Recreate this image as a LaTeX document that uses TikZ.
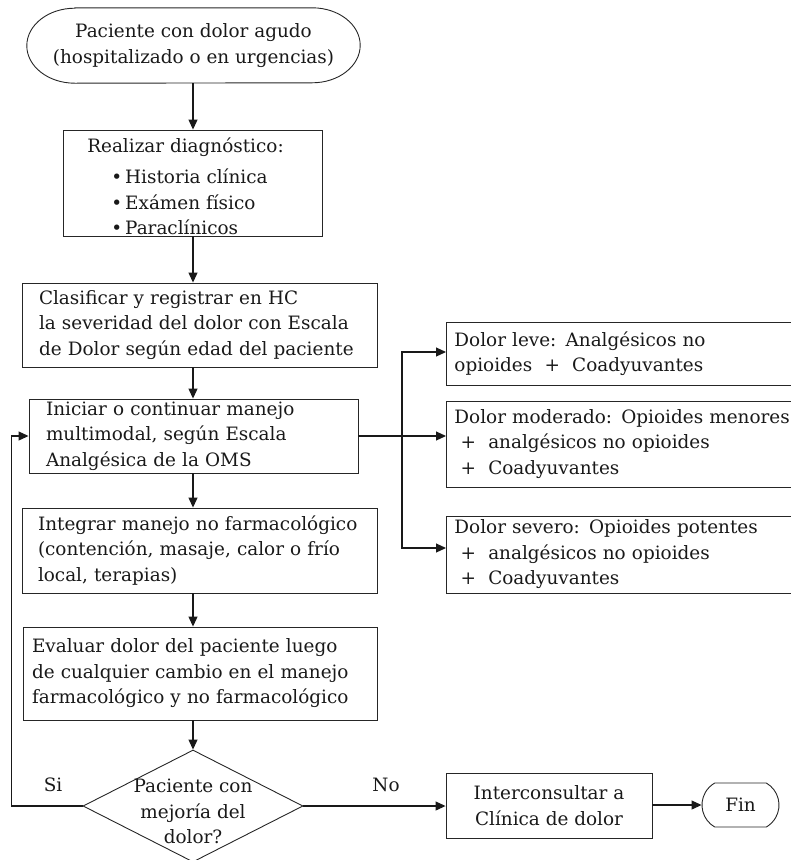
\documentclass[tikz,border=0pt]{standalone}
\usepackage{fontspec}
\setmainfont{DejaVu Serif}
\usetikzlibrary{shapes.geometric,shapes.misc,arrows.meta}
\tikzset{
  x=1pt,y=-1pt,
  txt/.style={font=\fontsize{18.4}{25.5}\selectfont, text=black!90},
  lbox/.style={txt, draw=black!85, line width=0.9pt, rectangle, align=left, inner ysep=1pt},
  rbox/.style={lbox, anchor=west, text width=360pt, inner xsep=8pt},
  cbox/.style={txt, draw=black!85, line width=0.9pt, rectangle, align=center, inner sep=1pt},
  term/.style={txt, draw=black!85, line width=0.9pt, rounded rectangle, align=center, inner sep=1pt},
  decision/.style={txt, draw=black!85, line width=0.9pt, diamond, align=center, inner sep=0pt,
    minimum width=220pt, minimum height=112pt},
  arr/.style={draw=black!90, line width=1.1pt, -{Triangle[length=10pt,width=9pt]}},
  ln/.style={draw=black!90, line width=1.1pt},
  outl/.style={draw=black!85, line width=0.9pt},
}
\begin{document}
\begin{tikzpicture}
\useasboundingbox (0,0) rectangle (791,860);

\node[txt, align=center, inner sep=0pt, minimum width=333pt, minimum height=75pt] (start) at (193.5,45.5)
  {Paciente con dolor agudo\\(hospitalizado o en urgencias)};
\draw[outl] ([xshift=48pt]start.north west) -- ([xshift=-48pt]start.north east)
  arc[start angle=90, end angle=-90, x radius=48pt, y radius=37.5pt]
  -- ([xshift=48pt]start.south west)
  arc[start angle=270, end angle=90, x radius=48pt, y radius=37.5pt] -- cycle;

\node[lbox, inner sep=0pt, minimum width=259pt, minimum height=106pt] (real) at (192.5,183)
  {\raisebox{-9.5pt}[0pt][0pt]{\makebox[0pt]{\hspace*{-14pt}\begin{tabular}{@{}l@{}}Realizar diagnóstico:\\[6pt]
   \hspace*{24pt}•\,Historia clínica\\
   \hspace*{24pt}•\,Exámen físico\\
   \hspace*{24pt}•\,Paraclínicos\end{tabular}}}};

\node[lbox, text width=321pt, inner xsep=17pt, minimum height=84pt] (clas) at (199.5,325)
  {Clasificar y registrar en HC\\la severidad del dolor con Escala\\de Dolor según edad del paciente};

\node[lbox, text width=295pt, inner xsep=17pt, minimum height=74pt] (ini) at (193.5,436)
  {Iniciar o continuar manejo\\multimodal, según Escala\\Analgésica de la OMS};

\node[lbox, text width=323pt, inner xsep=16pt, minimum height=85pt] (integ) at (199.5,550.5)
  {Integrar manejo no farmacológico\\(contención, masaje, calor o frío\\local, terapias)};

\node[lbox, text width=336pt, inner xsep=9pt, minimum height=93pt] (eval) at (200,673.5)
  {Evaluar dolor del paciente luego\\de cualquier cambio en el manejo\\farmacológico y no farmacológico};

\node[decision] (d) at (193,806)
  {\raisebox{-11.5pt}[0pt][0pt]{\makebox[0pt]{\begin{tabular}{@{}c@{}}Paciente con\\mejoría del\\dolor?\end{tabular}}}};

\node[cbox, minimum width=206pt, minimum height=65pt] (inter) at (549,805.5)
  {Interconsultar a\\Clínica de dolor};

\node[term, rounded rectangle arc length=120, minimum width=79pt, minimum height=44pt] (fin) at (740.5,805)
  {Fin};

\node[rbox, minimum height=63pt] (leve) at (446,353.5)
  {Dolor leve: Analgésicos no\\opioides~~+~~Coadyuvantes};
\node[rbox, minimum height=86pt] (mod) at (446,444)
  {Dolor moderado: Opioides menores\\~+~~analgésicos no opioides\\~+~~Coadyuvantes};
\node[rbox, minimum height=77pt] (sev) at (446,554.5)
  {Dolor severo: Opioides potentes\\~+~~analgésicos no opioides\\~+~~Coadyuvantes};

\node[txt] (si) at (53,785) {Si};
\node[txt] (no) at (386,785) {No};

% main flow
\draw[arr] (start.south -| d.north) -- (real.north -| d.north);
\draw[arr] (real.south -| d.north) -- (clas.north -| d.north);
\draw[arr] (clas.south -| d.north) -- (ini.north -| d.north);
\draw[arr] (ini.south -| d.north) -- (integ.north -| d.north);
\draw[arr] (integ.south -| d.north) -- (eval.north -| d.north);
\draw[arr] (eval.south -| d.north) -- (d.north);
\draw[arr] (d.east) -- (d.east -| inter.west);
\draw[arr] (inter.east |- fin.west) -- (fin.west);

% loop back
\draw[arr] (d.west) -- ++(-71,0) |- (ini.west);

% branches
\coordinate (j) at (402,436);
\draw[ln, line width=1.6pt] (ini.east) -- (j);
\draw[arr] (j) |- ([yshift=1.5pt]leve.west);
\draw[arr] (j) -- (j -| mod.west);
\draw[arr] (j) |- ([yshift=6.5pt]sev.west);
\end{tikzpicture}
\end{document}
